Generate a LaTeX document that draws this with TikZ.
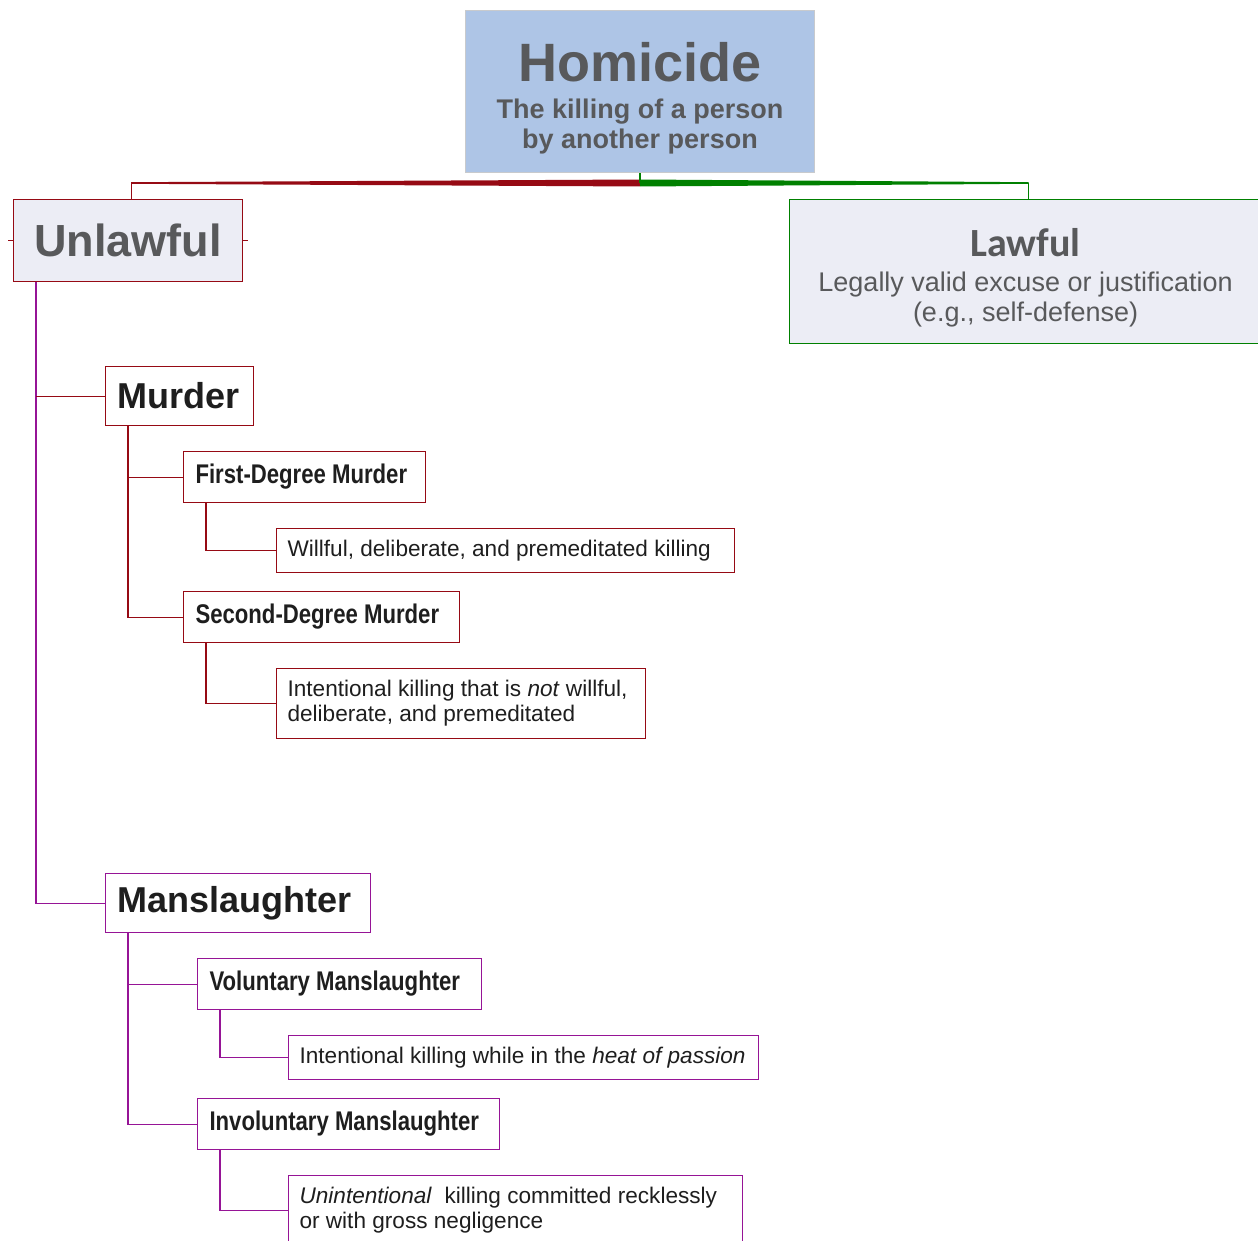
\documentclass[tikz,border=0pt]{standalone}
\usepackage{fontspec}
\setmainfont{Liberation Sans}
\newfontfamily\narrowsf[FakeStretch=0.82]{Liberation Sans}
\newfontfamily\calsf{Carlito}
\usepackage{tikz}
\usetikzlibrary{positioning}
\definecolor{hblue}{RGB}{174,197,230}
\definecolor{hgray}{RGB}{200,202,205}
\definecolor{hfill}{RGB}{236,237,245}
\definecolor{htext}{RGB}{88,89,91}
\definecolor{ink}{RGB}{30,30,30}
\definecolor{hred}{RGB}{150,10,20}
\definecolor{hgreen}{RGB}{0,128,0}
\definecolor{hpurple}{RGB}{150,20,150}

\begin{document}
\begin{tikzpicture}[
  x=1pt, y=-1pt,
  hbox/.style   = {rectangle, draw=#1, line width=1.1pt, fill=white,
                   anchor=north west, inner xsep=12pt, inner ysep=0pt,
                   text=ink, align=flush left},
  root/.style   = {rectangle, draw=hgray, line width=1pt, fill=hblue,
                   anchor=north west, minimum width=349pt, minimum height=162pt,
                   text=htext, align=center, inner sep=0pt,
                   font=\fontsize{27}{30}\selectfont\bfseries},
  cat/.style    = {hbox=#1, fill=hfill, text=htext, align=center},
  head/.style   = {hbox=#1, minimum height=59pt,
                   font=\fontsize{36}{40}\selectfont\bfseries},
  sub/.style    = {hbox=#1, minimum height=51pt,
                   font=\narrowsf\fontsize{27}{30}\selectfont\bfseries},
  leaf/.style   = {hbox=#1, minimum height=44pt, inner xsep=11pt,
                   font=\fontsize{22.6}{25}\selectfont},
  rline/.style  = {draw=hred, line width=1.1pt},
  gline/.style  = {draw=hgreen, line width=1.1pt},
  mline/.style  = {draw=hpurple, line width=1.1pt},
]
\path[use as bounding box, clip] (0,0) rectangle (1258,1241);

%% --- Root ---
\node[root] (homicide) at (465,10)
  {\rule{0pt}{52pt}{\fontsize{54}{54}\selectfont Homicide}\\[7pt]
   The killing of a person\\by another person};

%% --- Level 1 ---
\node[cat=hred, minimum width=229pt, minimum height=82pt,
      font=\fontsize{45}{50}\selectfont\bfseries] (unlawful) at (13,199) {Unlawful};
\node[cat=hgreen, minimum width=472pt, minimum height=144pt,
      font=\fontsize{27}{30}\selectfont] (lawful) at (789,199)
  {\rule{0pt}{40pt}{\calsf\bfseries\fontsize{40}{40}\selectfont Lawful}\\[5pt]
   Legally valid excuse or justification\\(e.g., self-defense)};

%% --- Murder ---
\node[head=hred, text width=124pt] (murder) at (105,366) {Murder};
\node[sub=hred, text width=218pt]  (first)  at (183,451) {First-Degree Murder};
\node[leaf=hred, text width=436pt] (willful) at (276,528)
  {Willful, deliberate, and premeditated killing};
\node[sub=hred, text width=252pt]  (second) at (183,591) {Second-Degree Murder};
\node[leaf=hred, text width=347pt, minimum height=70pt] (notwillful) at (276,668)
  {Intentional killing that is \textit{not} willful,\\deliberate, and premeditated};

%% --- Manslaughter ---
\node[head=hpurple, text width=241pt] (manslaughter) at (105,873) {Manslaughter};
\node[sub=hpurple, text width=260pt]  (voluntary)    at (197,958) {Voluntary Manslaughter};
\node[leaf=hpurple, text width=448pt] (passion)      at (288,1035)
  {Intentional killing while in the \textit{heat of passion}};
\node[sub=hpurple, text width=278pt]  (involuntary)  at (197,1098) {Involuntary Manslaughter};
\node[leaf=hpurple, text width=432pt, minimum height=70pt] (reckless) at (288,1175)
  {\textit{Unintentional}\ \ killing committed recklessly\\or with gross negligence};

%% --- Root connectors ---
\coordinate (fork)  at ([yshift=-10pt]homicide.south);
\coordinate (lfork) at ([xshift=3pt]fork -| unlawful.north);
\coordinate (rfork) at ([xshift=3pt]fork -| lawful.north);
\fill[hred]   ([yshift=3.5pt]fork) -- ([yshift=0.8pt]lfork)
              -- ([yshift=-0.8pt]lfork) -- ([yshift=-3.5pt]fork) -- cycle;
\fill[hgreen] ([yshift=3.5pt]fork) -- ([yshift=0.8pt]rfork)
              -- ([yshift=-0.8pt]rfork) -- ([yshift=-3.5pt]fork) -- cycle;
\draw[gline] (homicide.south) -- (fork);
\draw[rline] (lfork) -- (lfork |- unlawful.north);
\draw[gline] (rfork) -- (rfork |- lawful.north);
\draw[rline] (unlawful.west) -- ++(-5,0);
\draw[rline] (unlawful.east) -- ++(5,0);

%% --- Tree connectors ---
\coordinate (utrunk) at ([xshift=23pt]unlawful.south west);
\draw[mline] (utrunk) |- (manslaughter.west);
\draw[rline] (utrunk |- murder.west) -- (murder.west);

\coordinate (mtrunk) at ([xshift=23pt]murder.south west);
\draw[rline] (mtrunk) |- (first.west);
\draw[rline] (mtrunk) |- (second.west);
\coordinate (ftrunk) at ([xshift=23pt]first.south west);
\draw[rline] (ftrunk) |- (willful.west);
\coordinate (strunk) at ([xshift=23pt]second.south west);
\draw[rline] (strunk) |- (notwillful.west);

\coordinate (mstrunk) at ([xshift=23pt]manslaughter.south west);
\draw[mline] (mstrunk) |- (voluntary.west);
\draw[mline] (mstrunk) |- (involuntary.west);
\coordinate (vtrunk) at ([xshift=23pt]voluntary.south west);
\draw[mline] (vtrunk) |- (passion.west);
\coordinate (itrunk) at ([xshift=23pt]involuntary.south west);
\draw[mline] (itrunk) |- (reckless.west);

\end{tikzpicture}
\end{document}
